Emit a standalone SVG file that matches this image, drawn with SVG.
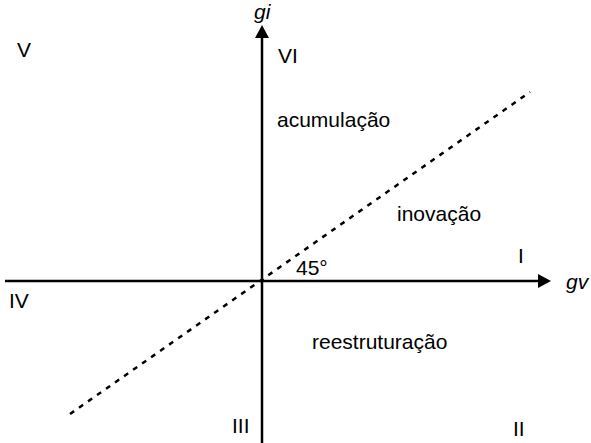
<svg xmlns="http://www.w3.org/2000/svg" width="591" height="443" viewBox="0 0 591 443">
<style>
text{font-family:"Liberation Sans",Arial,sans-serif;font-size:21px;fill:#000}
.it{font-style:italic}
.ax{stroke:#000;stroke-width:2.5;fill:none}
.dash{stroke:#000;stroke-width:2.5;stroke-dasharray:5 6;fill:none}
</style>
<g id="connectors">
<path class="dash" d="M70,414 L530,92"/>
<line class="ax" x1="5" y1="281" x2="540" y2="281"/>
<path d="M538,274 L551,281 L538,288 Z" fill="#000"/>
<line class="ax" x1="262" y1="443" x2="262" y2="36"/>
<path d="M255,38 L262,25 L269,38 Z" fill="#000"/>
</g>
<g id="labels">
<text class="it" x="254" y="19">gi</text>
<text class="it" x="566" y="289">gv</text>
<text x="17" y="57">V</text>
<text x="278" y="63">VI</text>
<text x="277" y="127">acumulação</text>
<text x="397" y="221">inovação</text>
<text x="518" y="263">I</text>
<text x="296" y="275">45°</text>
<text x="9" y="308">IV</text>
<text x="312" y="349">reestruturação</text>
<text x="232" y="433">III</text>
<text x="513" y="436">II</text>
</g>
</svg>
